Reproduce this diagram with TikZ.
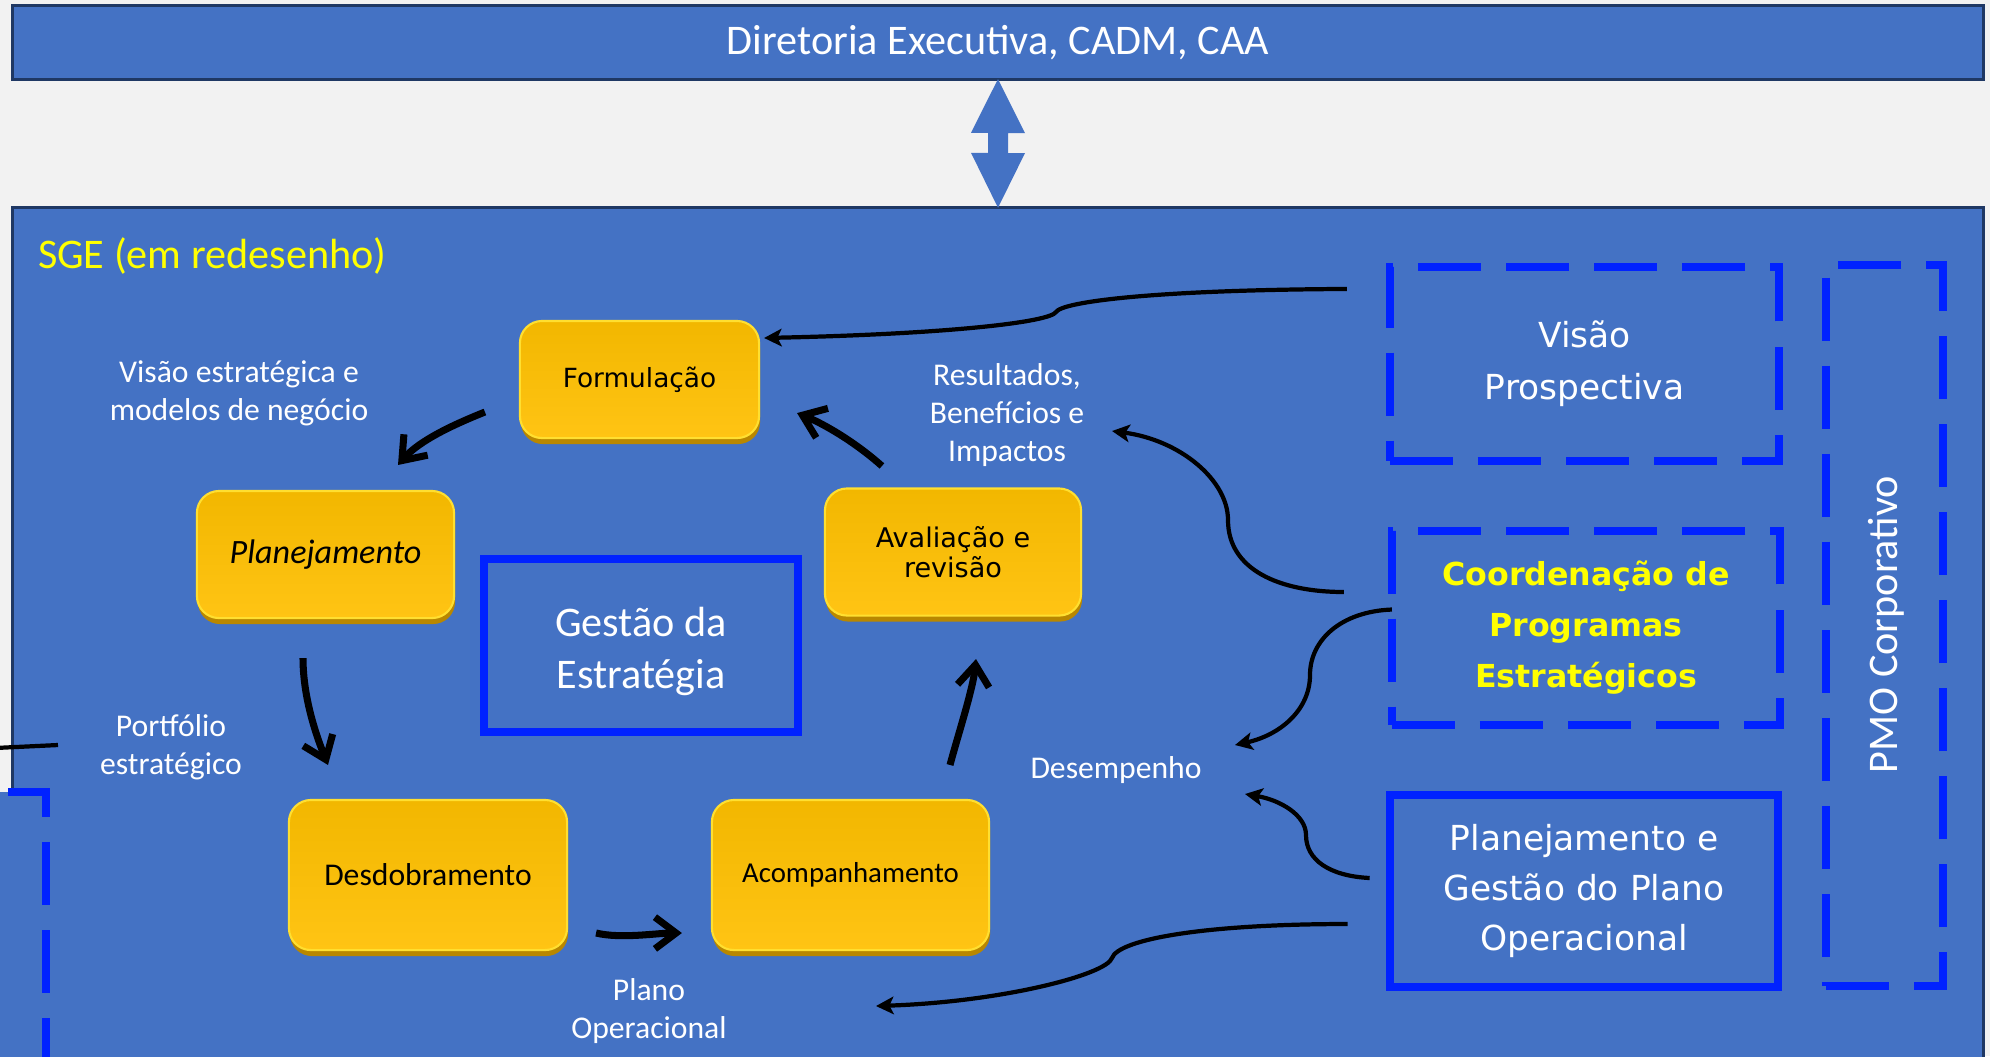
\documentclass[tikz,border=0pt]{standalone}
\usepackage{fontspec}
\setmainfont{Carlito}
\newfontfamily\verd{DejaVu Sans}
\usetikzlibrary{arrows.meta,shadows}
\definecolor{fundo}{HTML}{F2F2F2}
\definecolor{azulsge}{HTML}{4472C4}
\definecolor{marinho}{HTML}{1F3864}
\definecolor{azulforte}{HTML}{0022FF}
\definecolor{amarelo}{HTML}{FFFF00}
\definecolor{ouro}{HTML}{F2B700}
\definecolor{ouroclaro}{HTML}{FFC414}
\definecolor{ouroescuro}{HTML}{B98700}
\definecolor{ourobrilho}{HTML}{FFDF30}

\begin{document}
\begin{tikzpicture}[x=0.01cm,y=-0.01cm,
  every node/.style={outer sep=0pt},
  etapa/.style={rounded corners=0.22cm, draw=ourobrilho, line width=0.6pt, top color=ouro, bottom color=ouroclaro,
    drop shadow={shadow xshift=0.01cm, shadow yshift=-0.06cm, fill=ouroescuro, opacity=1}, text=black, align=center},
  rotulo/.style={text=white, align=center, font=\fontsize{9}{10.8}\selectfont},
  caixa/.style={draw=azulforte, line width=0.08cm, text=white, align=center},
  tracejada/.style={caixa, dash pattern=on 0.63cm off 0.25cm},
  ciclo/.style={line width=2pt, -{Straight Barb[length=6pt,width=9pt]}},
  fluxo/.style={line width=1.2pt, -{Stealth[length=5pt,width=5pt,inset=1.2pt]}}]
  \useasboundingbox (0,0) rectangle (1990,1056);
  \clip (0,0) rectangle (1990,1056);
  \fill[fundo] (0,0) rectangle (1990,1056);
  \node[draw=marinho, line width=0.03cm, fill=azulsge, minimum width=19.70cm, minimum height=8.70cm] (sge) at (998,643) {};
  \node[draw=marinho, line width=0.03cm, fill=azulsge, minimum width=19.70cm, minimum height=0.73cm, text=white,
    font=\fontsize{12}{14}\selectfont] (dir) at (998,42.5) {Diretoria Executiva, CADM, CAA};
  \fill[azulsge] (dir.south) -- ++(27,54) -- ++(-17,0) -- ++(0,20) -- ++(17,0) -- (sge.north)
    -- ++(-27,-55) -- ++(17,0) -- ++(0,-20) -- ++(-17,0) -- cycle;
  \fill[azulsge] (-20,792) rectangle (46,1070);
  \draw[azulforte, line width=0.08cm, dash pattern=on 0.63cm off 0.25cm] (8,792) -- (46,792) -- (46,1070);
  \node[anchor=west, inner sep=0pt, text=amarelo, font=\fontsize{12}{14}\selectfont] (titulo) at (38,256) {SGE (em redesenho)};

  \node[etapa, minimum width=2.39cm, minimum height=1.17cm, font=\verd\fontsize{7.5}{8.3}\selectfont] (form) at (639.5,379.5) {Formulação};
  \node[etapa, minimum width=2.57cm, minimum height=1.27cm, font=\itshape\fontsize{9.7}{11}\selectfont] (plan) at (325.5,554.5) {Planejamento};
  \node[etapa, minimum width=2.56cm, minimum height=1.27cm, font=\verd\fontsize{7.7}{8.6}\selectfont] (aval) at (953,552) {Avaliação e\\revisão};
  \node[etapa, minimum width=2.78cm, minimum height=1.50cm, font=\fontsize{9}{11}\selectfont] (desd) at (428,875) {Desdobramento};
  \node[etapa, minimum width=2.77cm, minimum height=1.50cm, font=\fontsize{8.2}{11}\selectfont] (acomp) at (850.5,875) {Acompanhamento};
  \node[caixa, minimum width=3.14cm, minimum height=1.73cm] (gestao) at (641,645.5) {};
  \node[text=white, align=center, font=\fontsize{12}{14.8}\selectfont] (gestaotxt) at (641,651) {Gestão da\\Estratégia};

  \node[tracejada, minimum width=3.89cm, minimum height=1.93cm, font=\verd\fontsize{9.8}{14.8}\selectfont] (vis) at (1584.5,364) {Visão\\Prospectiva};
  \node[tracejada, minimum width=3.88cm, minimum height=1.93cm, text=amarelo, font=\verd\bfseries\fontsize{9}{14.5}\selectfont] (coord) at (1586,628) {Coordenação de\\Programas\\Estratégicos};
  \node[caixa, minimum width=3.885cm, minimum height=1.925cm, font=\verd\fontsize{9.8}{14.2}\selectfont] (pgpo) at (1584,891) {Planejamento e\\Gestão do Plano\\Operacional};
  \node[tracejada, minimum width=1.17cm, minimum height=7.21cm] (pmo) at (1884.5,625.5) {};
  \node[rotate=90, text=white, font=\fontsize{12}{14}\selectfont] (pmotxt) at (1886,624.5) {PMO Corporativo};

  \node[rotulo] (vemn) at (239,393) {Visão estratégica e\\modelos de negócio};
  \node[rotulo] (rbi) at (1007,415) {Resultados,\\Benefícios e\\Impactos};
  \node[rotulo] (port) at (171,747) {Portfólio\\estratégico};
  \node[rotulo] (desemp) at (1116,770) {Desempenho};
  \node[rotulo] (plop) at (649,1011) {Plano\\Operacional};

  \draw[ciclo] ([shift={(-35,32.5)}]form.west) .. controls +(-30,12) and +(22,-25) .. ([shift={(72.5,-26)}]plan.north);
  \draw[ciclo] ([shift={(-22.5,40)}]plan.south) .. controls +(0,42) and +(-10,-25) .. ([shift={(-100,-35)}]desd.north);
  \draw[ciclo] ([shift={(29,58)}]desd.east) .. controls +(25,6) and +(-25,0) .. ([shift={(-30,58)}]acomp.west);
  \draw[ciclo] ([shift={(99.5,-35)}]acomp.north) .. controls +(8,-30) and +(-3,30) .. ([shift={(23,43.5)}]aval.south);
  \draw[ciclo] ([shift={(57,-22.5)}]aval.north west) .. controls +(-28,-25) and +(25,10) .. ([shift={(38,-25)}]form.south east);

  \draw[fluxo] ([shift={(-43,21.5)}]vis.north west) .. controls +(-197,1) and +(6,-10) .. (1056,312)
    .. controls +(-6,10) and +(186,-4) .. ([shift={(5,17)}]form.north east);
  \draw[fluxo] ([shift={(-48,-36)}]coord.west) .. controls +(-64,0) and +(0,50) .. (1228,520)
    .. controls +(0,-40) and +(68,9) .. ([shift={(105,16)}]rbi.center);
  \draw[fluxo] ([shift={(0,-18.5)}]coord.west) .. controls +(-51,2) and +(0,-35) .. (1310,675)
    .. controls +(0,35) and +(45,-10) .. ([shift={(119,-25)}]desemp.center);
  \draw[fluxo] ([shift={(-20,-13)}]pgpo.west) .. controls +(-40,-2) and +(0,25) .. (1306,835)
    .. controls +(0,-20) and +(35,6) .. ([shift={(129,24)}]desemp.center);
  \draw[fluxo] ([shift={(-42,33)}]pgpo.west) .. controls +(-148,0) and +(6,-18) .. (1112,958)
    .. controls +(-6,17) and +(124,-4) .. ([shift={(227,-5)}]plop.center);
  \coordinate (fora) at (-5,748);
  \draw[line width=1.2pt] (fora) -- ([shift={(-113,-2)}]port.center);
\end{tikzpicture}
\end{document}
